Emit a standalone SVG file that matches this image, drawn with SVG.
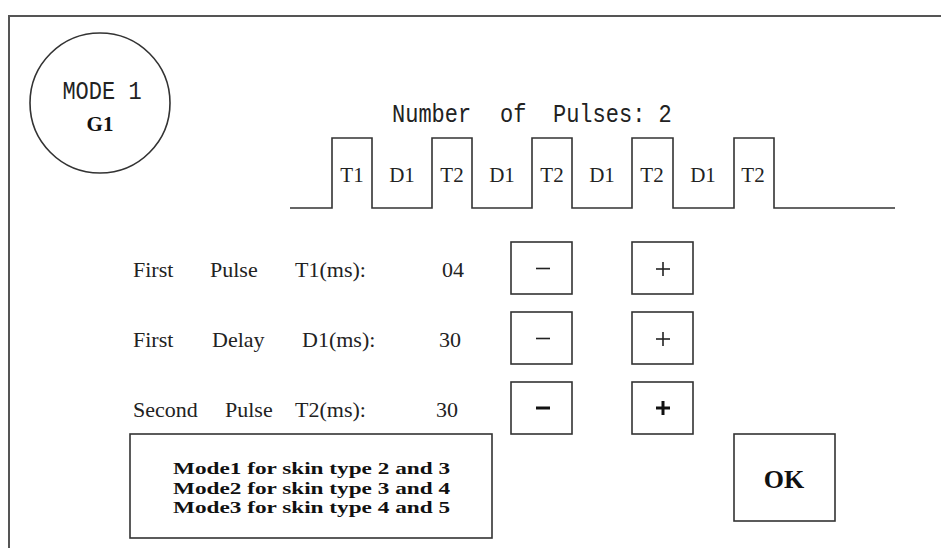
<svg xmlns="http://www.w3.org/2000/svg" width="941" height="548" viewBox="0 0 941 548">
<style>
.frame{fill:none;stroke:#555;stroke-width:2}
.box{fill:#fff;stroke:#333;stroke-width:1.6}
.wave{fill:none;stroke:#333;stroke-width:1.6}
.mono{font-family:"Liberation Mono","DejaVu Sans Mono",monospace;font-size:22px;fill:#222}
.ser{font-family:"Liberation Serif","Times New Roman",serif;font-size:21px;fill:#222}
.lbl{font-family:"Liberation Serif","Times New Roman",serif;font-size:22px;fill:#222}
.bold{font-family:"Liberation Serif","Times New Roman",serif;font-weight:bold;fill:#111}
.sign{stroke:#222;stroke-width:1.6}
.signb{stroke:#111;stroke-width:3}
</style>
<rect width="941" height="548" fill="#fff"/>
<g id="frame"><path class="frame" d="M9,548 V16 H941"/></g>
<g id="mode-circle">
<circle cx="100" cy="103" r="70" fill="#fff" stroke="#333" stroke-width="1.6"/>
<text class="mono" x="102" y="99" text-anchor="middle" transform="translate(0,-14.85) scale(1,1.15)">MODE 1</text>
<text class="bold" x="100" y="131" text-anchor="middle" font-size="21">G1</text>
</g>
<g id="pulse-title">
<text class="mono" transform="translate(0,-18.3) scale(1,1.15)"><tspan x="392" y="122">Number</tspan><tspan x="500" y="122">of</tspan><tspan x="553" y="122">Pulses: 2</tspan></text>
</g>
<g id="waveform">
<path class="wave" d="M290,208 H332 V138 H372 V208 H432 V138 H472 V208 H532 V138 H572 V208 H632 V138 H673 V208 H734 V138 H774 V208 H895"/>
<g class="ser" text-anchor="middle">
<text x="352" y="182">T1</text>
<text x="402" y="182">D1</text>
<text x="452" y="182">T2</text>
<text x="502" y="182">D1</text>
<text x="552" y="182">T2</text>
<text x="602" y="182">D1</text>
<text x="652" y="182">T2</text>
<text x="703" y="182">D1</text>
<text x="753" y="182">T2</text>
</g>
</g>
<g id="row-t1" class="lbl">
<text x="133" y="277">First</text>
<text x="210" y="277">Pulse</text>
<text x="295" y="277">T1(ms):</text>
<text x="464" y="277" text-anchor="end">04</text>
</g>
<g id="row-d1" class="lbl">
<text x="133" y="347">First</text>
<text x="212" y="347">Delay</text>
<text x="302" y="347">D1(ms):</text>
<text x="461" y="347" text-anchor="end">30</text>
</g>
<g id="row-t2" class="lbl">
<text x="133" y="417">Second</text>
<text x="225" y="417">Pulse</text>
<text x="295" y="417">T2(ms):</text>
<text x="458" y="417" text-anchor="end">30</text>
</g>
<g id="btn-t1-minus"><rect class="box" x="511" y="242" width="61" height="52"/><line class="sign" x1="536" y1="268.5" x2="550" y2="268.5"/></g>
<g id="btn-t1-plus"><rect class="box" x="632" y="242" width="61" height="52"/><line class="sign" x1="656" y1="269" x2="670" y2="269"/><line class="sign" x1="663" y1="262" x2="663" y2="276"/></g>
<g id="btn-d1-minus"><rect class="box" x="511" y="312" width="61" height="52"/><line class="sign" x1="536" y1="338.5" x2="550" y2="338.5"/></g>
<g id="btn-d1-plus"><rect class="box" x="632" y="312" width="61" height="52"/><line class="sign" x1="656" y1="339" x2="670" y2="339"/><line class="sign" x1="663" y1="332" x2="663" y2="346"/></g>
<g id="btn-t2-minus"><rect class="box" x="511" y="382" width="61" height="52"/><line class="signb" x1="536" y1="408" x2="550" y2="408"/></g>
<g id="btn-t2-plus"><rect class="box" x="632" y="382" width="61" height="52"/><line class="signb" x1="656" y1="408" x2="670" y2="408"/><line class="signb" x1="663" y1="401" x2="663" y2="415"/></g>
<g id="skin-info">
<rect class="box" x="130" y="434" width="362" height="104"/>
<g class="bold" font-size="17">
<text x="173" y="474" textLength="277" lengthAdjust="spacingAndGlyphs">Mode1 for skin type 2 and 3</text>
<text x="173" y="493.5" textLength="277" lengthAdjust="spacingAndGlyphs">Mode2 for skin type 3 and 4</text>
<text x="173" y="513" textLength="277" lengthAdjust="spacingAndGlyphs">Mode3 for skin type 4 and 5</text>
</g>
</g>
<g id="btn-ok">
<rect class="box" x="734" y="434" width="101" height="87"/>
<text class="bold" x="784" y="488" font-size="26" text-anchor="middle">OK</text>
</g>
</svg>
